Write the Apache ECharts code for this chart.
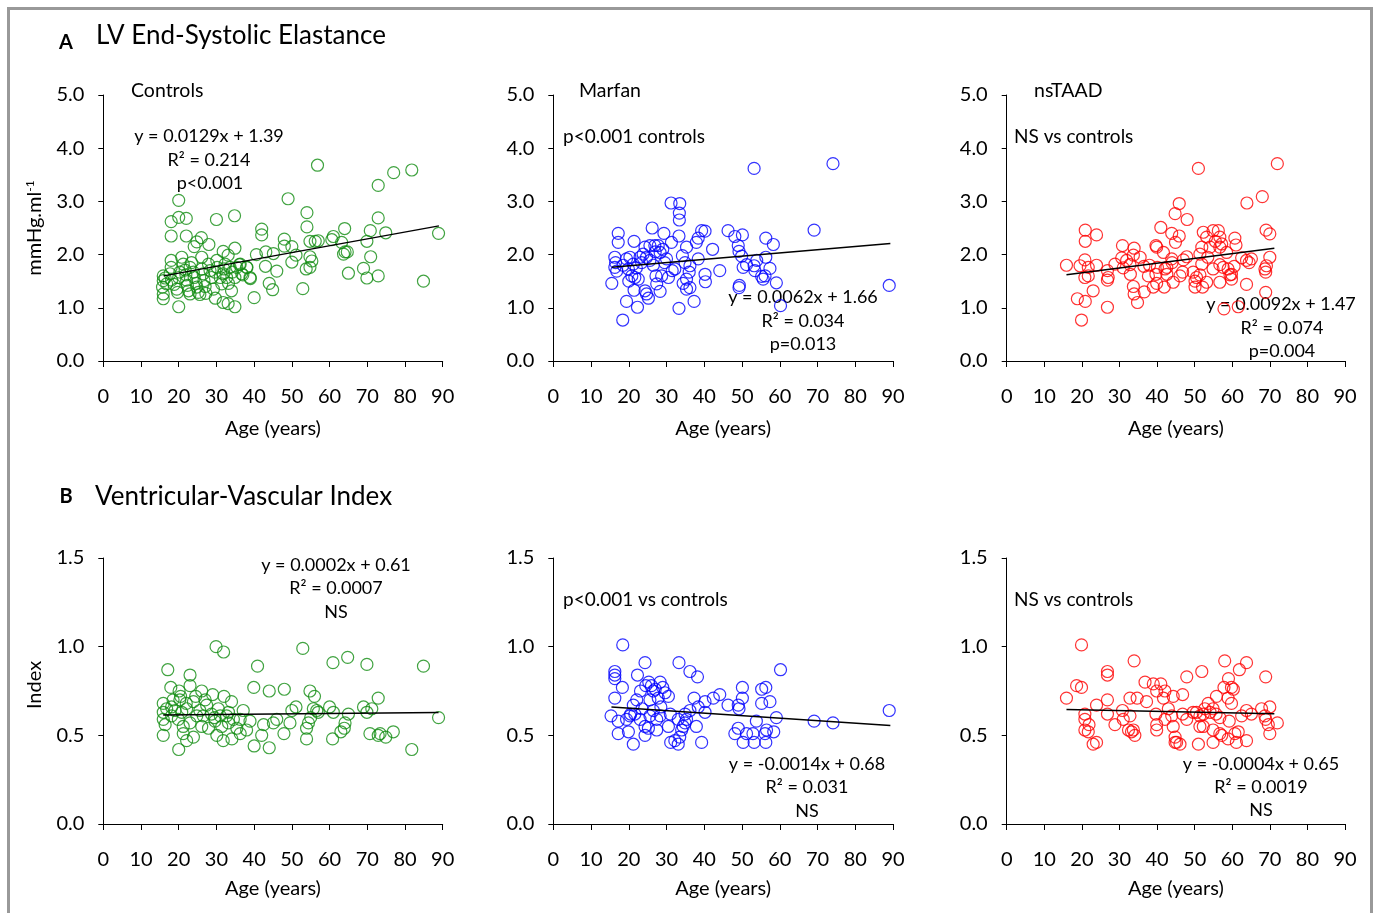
<!DOCTYPE html>
<html><head><meta charset="utf-8">
<script src="https://cdn.jsdelivr.net/npm/echarts@6/dist/echarts.min.js"></script>
<style>html,body{margin:0;padding:0;background:#fff}#c{width:1375px;height:913px}</style>
</head><body><div id="c"></div>
<script>
// ---- data: [age, value] ----
const ctrlA = [[56.8,3.68],[81.8,3.59],[77.0,3.54],[72.9,3.30],[49.0,3.05],[20.0,3.02],[54.0,2.79],[34.8,2.73],[18.0,2.62],[20.0,2.70],[22.0,2.68],[30.0,2.66],[72.9,2.69],[54.0,2.52],[42.0,2.48],[42.0,2.37],[64.0,2.49],[70.8,2.45],[74.9,2.41],[88.9,2.40],[18.0,2.35],[22.0,2.35],[26.0,2.32],[24.8,2.24],[24.1,2.15],[28.0,2.19],[48.0,2.29],[48.0,2.16],[50.0,2.15],[54.8,2.25],[56.2,2.25],[57.0,2.26],[60.6,2.28],[61.0,2.34],[63.2,2.23],[69.9,2.25],[34.9,2.12],[31.8,2.06],[33.1,1.99],[43.1,2.05],[45.1,2.02],[40.6,2.00],[51.1,1.99],[54.8,1.96],[64.1,2.05],[63.7,2.01],[64.7,2.05],[70.9,1.96],[50.0,1.86],[43.0,1.78],[46.0,1.69],[53.8,1.73],[54.8,1.76],[55.3,1.88],[69.0,1.74],[65.0,1.65],[69.9,1.56],[72.9,1.60],[84.9,1.50],[44.0,1.46],[44.9,1.34],[52.9,1.36],[40.0,1.19],[39.0,1.55],[38.1,1.76],[36.7,1.64],[36.1,1.81],[34.9,1.02],[33.1,1.08],[31.8,1.10],[29.7,1.18],[20.0,1.02],[15.9,1.17],[15.9,1.26],[15.9,1.60],[16.4,1.56],[15.9,1.51],[16.8,1.45],[15.7,1.39],[18.0,1.89],[18.0,1.76],[17.7,1.64],[18.1,1.52],[18.8,1.44],[19.5,1.35],[19.7,1.29],[20.0,1.57],[20.3,1.67],[20.8,1.95],[21.2,1.82],[21.7,1.71],[21.9,1.62],[22.1,1.52],[22.3,1.42],[22.6,1.32],[23.0,1.26],[23.0,1.76],[23.4,1.85],[23.9,1.67],[24.1,1.57],[24.6,1.46],[24.8,1.39],[25.2,1.29],[25.6,1.25],[26.1,1.95],[26.1,1.73],[26.5,1.64],[26.7,1.51],[27.0,1.40],[27.2,1.27],[27.9,1.82],[28.3,1.70],[28.7,1.57],[29.2,1.35],[29.6,1.67],[30.1,1.89],[30.2,1.76],[31.0,1.57],[31.4,1.45],[31.8,1.64],[32.0,1.73],[32.3,1.82],[32.7,1.57],[33.2,1.46],[33.6,1.76],[34.0,1.32],[34.2,1.67],[34.9,1.57],[35.4,1.76],[36.3,1.82],[37.0,1.62],[38.0,1.76],[38.9,1.57]];
const marfanA = [[53.2,3.62],[74.1,3.71],[31.2,2.97],[33.5,2.96],[33.4,2.78],[33.4,2.65],[33.3,2.35],[17.2,2.40],[17.2,2.23],[21.4,2.25],[26.2,2.50],[29.3,2.40],[31.3,2.23],[38.4,2.31],[39.3,2.45],[40.2,2.44],[46.3,2.45],[48.1,2.34],[50.1,2.37],[56.3,2.31],[58.3,2.19],[69.1,2.46],[42.2,2.10],[35.3,2.14],[37.9,2.23],[49.0,2.17],[49.2,2.06],[49.9,1.97],[24.3,2.14],[25.6,2.17],[26.9,2.17],[27.8,2.17],[29.0,2.10],[28.3,2.04],[23.8,2.01],[24.7,1.95],[25.6,1.89],[23.4,1.85],[16.3,1.95],[16.5,1.85],[16.3,1.76],[16.8,1.69],[19.4,1.92],[20.3,1.95],[21.2,1.82],[19.9,1.73],[20.8,1.60],[21.6,1.57],[22.5,1.54],[15.5,1.46],[19.4,1.12],[18.4,0.77],[22.3,1.01],[21.4,1.33],[24.7,1.26],[25.2,1.18],[24.3,1.32],[28.3,1.31],[27.4,1.45],[27.2,1.60],[28.7,1.60],[30.5,1.57],[30.0,1.92],[32.2,1.73],[33.3,0.99],[37.3,1.12],[34.2,1.98],[34.9,1.85],[36.2,1.79],[36.0,1.67],[35.3,1.54],[34.4,1.46],[35.3,1.35],[36.2,1.38],[38.4,1.92],[40.2,1.63],[40.3,1.49],[44.1,1.70],[49.2,1.38],[49.3,1.42],[50.3,1.76],[51.2,1.81],[53.2,1.79],[53.9,1.89],[53.4,1.70],[55.2,1.59],[55.6,1.54],[56.1,1.60],[56.3,1.95],[57.4,1.74],[59.1,1.47],[60.2,1.04],[89.0,1.42],[18.5,1.80],[22.0,1.75],[23.0,1.95],[26.5,1.80],[29.5,1.85],[31.5,1.70],[20.0,1.50],[27.0,2.05]];
const nsA = [[51.0,3.62],[72.0,3.71],[68.0,3.09],[63.9,2.97],[45.9,2.96],[44.8,2.77],[48.0,2.66],[41.0,2.51],[43.9,2.40],[45.9,2.35],[44.9,2.23],[20.9,2.46],[20.9,2.25],[23.9,2.37],[30.8,2.17],[33.9,2.12],[33.7,1.99],[39.7,2.17],[39.9,2.14],[41.7,2.04],[52.3,2.42],[53.2,2.33],[54.9,2.45],[56.3,2.45],[56.7,2.33],[57.2,2.20],[54.1,2.14],[51.9,2.14],[56.7,2.14],[60.7,2.31],[61.0,2.18],[69.0,2.46],[70.0,2.39],[47.9,1.96],[51.4,2.01],[58.5,2.04],[15.9,1.80],[19.5,1.79],[20.8,1.90],[21.7,1.76],[23.9,1.80],[21.7,1.60],[20.8,1.57],[18.8,1.17],[20.9,1.12],[19.9,0.77],[23.0,1.32],[26.8,1.70],[26.8,1.52],[27.0,1.57],[26.8,1.01],[28.8,1.82],[30.6,1.94],[31.9,1.89],[32.8,1.81],[32.9,1.63],[33.7,1.40],[33.9,1.26],[34.8,1.10],[36.6,1.30],[39.0,1.39],[39.9,1.46],[37.7,1.60],[39.7,1.63],[40.1,1.76],[42.1,1.73],[42.6,1.63],[41.9,1.39],[44.3,1.48],[46.1,1.60],[46.8,1.67],[43.9,1.92],[42.6,1.76],[49.6,1.67],[50.1,1.50],[50.5,1.57],[51.4,1.62],[51.9,1.82],[53.2,1.48],[52.1,1.39],[50.1,1.39],[54.9,1.73],[56.7,1.81],[57.6,1.76],[58.9,1.73],[59.8,1.63],[59.8,1.54],[59.4,1.62],[56.7,1.48],[57.8,0.98],[61.6,1.02],[62.5,1.94],[63.8,1.89],[65.1,1.92],[63.8,1.44],[68.7,1.73],[68.9,1.67],[69.1,1.79],[70.0,1.95],[68.9,1.29],[35.5,1.95],[38.0,1.80],[44.0,1.85],[47.0,1.90],[53.5,1.95],[55.5,2.25],[60.5,1.78],[64.5,1.85],[31.0,1.75],[36.5,1.78]];
const ctrlB = [[29.9,1.00],[31.9,0.97],[52.9,0.99],[64.8,0.94],[60.9,0.91],[69.9,0.90],[84.9,0.89],[40.9,0.89],[17.1,0.87],[23.0,0.84],[39.9,0.77],[44.0,0.75],[48.0,0.76],[54.8,0.75],[56.0,0.72],[17.9,0.77],[20.1,0.75],[23.0,0.78],[26.1,0.75],[29.0,0.73],[32.0,0.72],[34.0,0.69],[72.9,0.71],[15.9,0.68],[18.1,0.66],[20.3,0.70],[23.9,0.69],[27.4,0.67],[30.5,0.65],[33.2,0.63],[37.1,0.64],[15.9,0.50],[20.0,0.42],[22.1,0.47],[23.9,0.49],[21.2,0.51],[31.8,0.47],[34.1,0.48],[36.3,0.51],[30.1,0.50],[40.0,0.44],[44.0,0.43],[42.0,0.50],[42.5,0.56],[45.1,0.57],[46.0,0.59],[47.9,0.51],[49.5,0.57],[50.0,0.64],[51.1,0.66],[53.9,0.48],[53.9,0.54],[54.4,0.57],[55.0,0.60],[55.7,0.65],[56.6,0.64],[57.0,0.63],[60.0,0.66],[61.0,0.63],[60.8,0.48],[63.0,0.52],[63.9,0.54],[64.1,0.57],[65.0,0.62],[69.0,0.66],[69.9,0.63],[71.2,0.65],[70.7,0.51],[72.9,0.50],[73.4,0.51],[74.9,0.49],[76.9,0.52],[81.8,0.42],[88.9,0.60],[15.9,0.63],[15.9,0.59],[16.4,0.56],[18.1,0.61],[19.9,0.59],[21.2,0.55],[23.0,0.57],[24.8,0.61],[26.1,0.55],[27.9,0.54],[29.6,0.58],[31.4,0.55],[33.2,0.57],[35.4,0.54],[38.0,0.53],[38.9,0.58],[16.8,0.65],[19.0,0.64],[20.8,0.63],[22.1,0.65],[25.6,0.64],[26.5,0.61],[28.7,0.62],[31.0,0.61],[32.7,0.61],[34.5,0.59],[36.3,0.59],[20.5,0.72],[24.5,0.72],[27.0,0.70],[22.0,0.68],[29.5,0.60],[18.5,0.70]];
const marfanB = [[18.4,1.01],[24.3,0.91],[33.3,0.91],[60.2,0.87],[16.3,0.86],[16.3,0.84],[16.3,0.82],[22.3,0.84],[36.2,0.86],[38.2,0.83],[18.3,0.77],[16.3,0.71],[25.3,0.80],[26.0,0.78],[28.3,0.80],[26.5,0.75],[23.1,0.75],[29.6,0.74],[30.5,0.72],[27.8,0.71],[25.6,0.70],[22.1,0.70],[21.2,0.67],[37.3,0.71],[40.2,0.69],[42.4,0.71],[44.1,0.73],[46.3,0.67],[49.0,0.67],[49.2,0.65],[50.1,0.71],[50.1,0.77],[55.2,0.76],[56.3,0.77],[55.2,0.68],[57.4,0.69],[38.4,0.66],[40.2,0.63],[36.2,0.64],[34.9,0.62],[35.3,0.59],[15.3,0.61],[17.2,0.51],[21.2,0.45],[24.3,0.50],[27.4,0.53],[19.9,0.52],[31.1,0.46],[32.2,0.47],[33.1,0.45],[33.5,0.49],[34.0,0.53],[39.3,0.46],[48.1,0.51],[49.0,0.54],[50.3,0.46],[51.2,0.51],[52.9,0.51],[53.2,0.46],[53.8,0.58],[56.1,0.51],[56.5,0.53],[56.3,0.46],[58.4,0.52],[59.1,0.60],[69.1,0.58],[74.1,0.57],[89.0,0.64],[17.2,0.58],[19.4,0.59],[20.3,0.61],[21.6,0.62],[23.0,0.59],[24.3,0.55],[25.2,0.54],[25.6,0.61],[27.4,0.59],[28.3,0.61],[30.5,0.55],[33.1,0.59],[34.4,0.55],[34.9,0.57],[37.9,0.55],[24.5,0.78],[27.0,0.76],[29.0,0.77],[20.5,0.62],[23.5,0.65],[26.5,0.64],[28.5,0.66],[31.0,0.62]];
const nsB = [[19.9,1.01],[33.9,0.92],[58.0,0.92],[63.8,0.91],[51.9,0.86],[61.9,0.87],[68.9,0.83],[26.8,0.86],[26.8,0.84],[47.9,0.83],[59.0,0.82],[57.8,0.77],[59.8,0.77],[60.3,0.76],[58.9,0.71],[59.8,0.68],[18.6,0.78],[19.9,0.77],[36.8,0.80],[39.0,0.79],[41.0,0.79],[39.9,0.75],[42.1,0.75],[41.7,0.71],[44.3,0.72],[46.8,0.73],[15.9,0.71],[26.8,0.70],[32.8,0.71],[34.7,0.71],[37.2,0.69],[23.9,0.67],[52.7,0.65],[53.6,0.68],[54.9,0.65],[55.8,0.72],[52.3,0.62],[54.1,0.63],[55.7,0.62],[20.8,0.62],[20.8,0.59],[21.9,0.56],[20.8,0.53],[21.7,0.52],[23.0,0.45],[23.9,0.46],[26.8,0.62],[28.8,0.56],[30.8,0.64],[31.0,0.59],[32.8,0.61],[32.4,0.53],[33.7,0.53],[34.1,0.50],[33.2,0.52],[39.7,0.62],[39.9,0.56],[39.9,0.53],[42.1,0.59],[43.0,0.65],[43.9,0.61],[44.3,0.55],[46.8,0.62],[47.9,0.59],[49.6,0.63],[50.5,0.63],[51.4,0.61],[51.4,0.55],[52.3,0.55],[54.9,0.53],[44.8,0.49],[45.2,0.46],[46.1,0.45],[44.8,0.46],[51.0,0.45],[54.9,0.46],[56.7,0.51],[57.2,0.50],[58.9,0.48],[60.7,0.51],[61.6,0.52],[61.1,0.46],[63.8,0.47],[56.7,0.60],[59.2,0.58],[62.5,0.61],[63.8,0.64],[65.1,0.62],[67.8,0.65],[68.7,0.61],[68.9,0.59],[70.0,0.66],[69.6,0.56],[72.0,0.57],[70.0,0.51]];
// fitted trend lines (end points)
const trendCtrlA = [[16.0,1.60],[89.0,2.54]];
const trendMarfanA = [[15.5,1.76],[89.3,2.21]];
const trendNsA = [[15.9,1.62],[71.2,2.12]];
const trendCtrlB = [[15.9,0.614],[88.9,0.629]];
const trendMarfanB = [[15.4,0.66],[89.3,0.555]];
const trendNsB = [[15.9,0.645],[71.2,0.622]];
// axis ranges
const xRange = [0, 90, 10];
const yRangeA = [0, 5, 1];
const yRangeB = [0, 1.5, 0.5];

const FONT = 'Lato, "Open Sans", sans-serif';
const GREEN = '#128c12', BLUE = '#0000ff', RED = '#ff0000';

const colsLeft = [103.3, 553.3, 1006.7];
const colsWidth = [339.4, 339.7, 338.3];
const rowsTop = [95, 558];
const rowH = 266;
const nameGaps = [58, 55];

const grids = [], xAxes = [], yAxes = [], series = [];
const panels = [
  {d: ctrlA, t: trendCtrlA, c: GREEN, r: 0, col: 0},
  {d: marfanA, t: trendMarfanA, c: BLUE, r: 0, col: 1},
  {d: nsA, t: trendNsA, c: RED, r: 0, col: 2},
  {d: ctrlB, t: trendCtrlB, c: GREEN, r: 1, col: 0},
  {d: marfanB, t: trendMarfanB, c: BLUE, r: 1, col: 1},
  {d: nsB, t: trendNsB, c: RED, r: 1, col: 2}
];
panels.forEach((p, i) => {
  grids.push({left: colsLeft[p.col], top: rowsTop[p.r], width: colsWidth[p.col], height: rowH, containLabel: false});
  xAxes.push({
    type: 'value', gridIndex: i, min: xRange[0], max: xRange[1], interval: xRange[2],
    axisLine: {lineStyle: {color: '#000', width: 1}},
    axisTick: {show: true, inside: false, length: 6, lineStyle: {color: '#000'}},
    splitLine: {show: false},
    axisLabel: {color: '#000', fontFamily: FONT, fontSize: 20, margin: 26},
    name: 'Age (years)', nameLocation: 'middle', nameGap: nameGaps[p.r],
    nameTextStyle: {color: '#000', fontFamily: FONT, fontSize: 20}
  });
  const yr = p.r === 0 ? yRangeA : yRangeB;
  yAxes.push({
    type: 'value', gridIndex: i, min: yr[0], max: yr[1], interval: yr[2],
    axisLine: {show: true, lineStyle: {color: '#000', width: 1}},
    axisTick: {show: true, inside: false, length: 5, lineStyle: {color: '#000'}},
    splitLine: {show: false},
    axisLabel: {color: '#000', fontFamily: FONT, fontSize: 20, margin: 19, formatter: v => v.toFixed(1)}
  });
  series.push({
    type: 'scatter', xAxisIndex: i, yAxisIndex: i, data: p.d, symbol: 'circle', symbolSize: 12,
    itemStyle: {color: 'rgba(0,0,0,0)', borderColor: p.c, borderWidth: 1.2},
    emphasis: {disabled: true}, z: 2
  });
  series.push({
    type: 'line', xAxisIndex: i, yAxisIndex: i, data: p.t, symbol: 'none',
    lineStyle: {color: '#000', width: 1.5}, emphasis: {disabled: true}, z: 3
  });
});

function txt(x, y, s, size, opts) {
  return Object.assign({type: 'text', x: x, y: y, silent: true,
    style: Object.assign({text: s, fill: '#000', font: (opts && opts.bold ? 'bold ' : '') + size + 'px ' + FONT,
      textAlign: (opts && opts.align) || 'center', textVerticalAlign: 'middle'}, (opts && opts.style) || {})},
    (opts && opts.extra) || {});
}

const g = [
  {type: 'rect', shape: {x: 8.5, y: 8.5, width: 1363, height: 940}, style: {fill: 'none', stroke: '#999', lineWidth: 3}, silent: true},
  txt(66, 43, 'A', 20, {bold: true}),
  txt(96, 36, 'LV End-Systolic Elastance', 26, {align: 'left'}),
  txt(66, 497, 'B', 20, {bold: true}),
  txt(95, 497, 'Ventricular-Vascular Index', 26, {align: 'left'}),
  txt(131, 91, 'Controls', 19.5, {align: 'left'}),
  txt(579, 91, 'Marfan', 19.5, {align: 'left'}),
  txt(1034, 91, 'nsTAAD', 19.5, {align: 'left'}),
  txt(563, 137, 'p<0.001 controls', 19, {align: 'left'}),
  txt(1014, 137, 'NS vs controls', 19, {align: 'left'}),
  txt(563, 600, 'p<0.001 vs controls', 19, {align: 'left'}),
  txt(1014, 600, 'NS vs controls', 19, {align: 'left'}),
  txt(209, 136, 'y = 0.0129x + 1.39', 18), txt(209, 160, 'R² = 0.214', 18), txt(210, 183, 'p<0.001', 18),
  txt(803, 297, 'y = 0.0062x + 1.66', 18), txt(803, 321, 'R² = 0.034', 18), txt(803, 344, 'p=0.013', 18),
  txt(1281, 304, 'y = 0.0092x + 1.47', 18), txt(1282, 328, 'R² = 0.074', 18), txt(1282, 351, 'p=0.004', 18),
  txt(336, 565, 'y = 0.0002x + 0.61', 18), txt(336, 588, 'R² = 0.0007', 18), txt(336, 612, 'NS', 18),
  txt(807, 764, 'y = -0.0014x + 0.68', 18), txt(807, 787, 'R² = 0.031', 18), txt(807, 811, 'NS', 18),
  txt(1261, 764, 'y = -0.0004x + 0.65', 18), txt(1261, 787, 'R² = 0.0019', 18), txt(1261, 810, 'NS', 18),
  {type: 'text', x: 35, y: 228, rotation: Math.PI / 2, silent: true,
    style: {text: '{a|mmHg.ml}{b|-1}', textAlign: 'center', textVerticalAlign: 'middle',
      rich: {a: {fontFamily: FONT, fontSize: 20, fill: '#000', color: '#000'},
             b: {fontFamily: FONT, fontSize: 12, fill: '#000', color: '#000', verticalAlign: 'top', padding: [0, 0, 9, 0]}}}},
  txt(35, 685, 'Index', 20, {extra: {rotation: Math.PI / 2}})
];

const chart = echarts.init(document.getElementById('c'), null, {renderer: 'canvas'});
chart.setOption({
  animation: false, backgroundColor: '#fff',
  grid: grids, xAxis: xAxes, yAxis: yAxes, series: series, graphic: g
});
</script></body></html>
